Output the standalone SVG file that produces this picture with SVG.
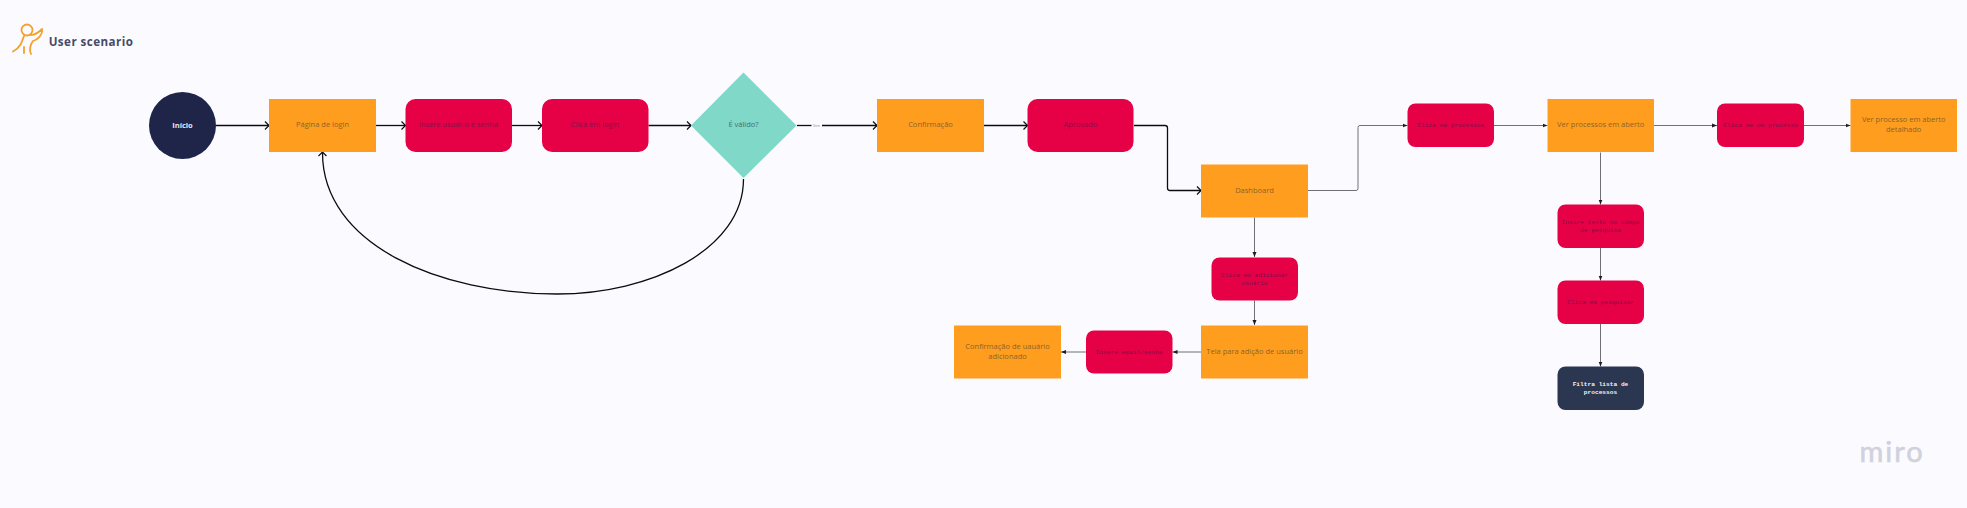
<svg xmlns="http://www.w3.org/2000/svg" width="1967" height="508" viewBox="0 0 1967 508">
<style>
.o{fill:#ff9d1f}.r{fill:#e60046}
text{text-anchor:middle;font-family:"Open Sans","Noto Sans",sans-serif;font-size:7.500px}
.to{fill:#8c6428}.tr{fill:#8a1048}.tm{font-family:"Liberation Mono",monospace;font-size:6.200px;fill:#80104a}
.k{fill:none;stroke:#0b0b12;stroke-width:1.300}
.g{fill:none;stroke:#6f6f78;stroke-width:1}
.i{fill:none;stroke:#f5a02c;stroke-width:1.800;stroke-linecap:round;stroke-linejoin:round}
</style>
<defs>
<marker id="a" markerUnits="userSpaceOnUse" markerWidth="9" markerHeight="12" refX="7.500" refY="6" orient="auto"><path d="M3.500 2L7.500 6L3.500 10" fill="none" stroke="#0b0b12" stroke-width="1.200"/></marker>
<marker id="b" markerUnits="userSpaceOnUse" markerWidth="6" markerHeight="6" refX="5" refY="3" orient="auto"><path d="M0 1L5 3L0 5Z" fill="#1c1c24"/></marker>
</defs>
<rect width="1967" height="508" fill="#fbfbff"/>
<g id="title">
<g id="title-icon" class="i"><circle cx="27" cy="30" r="5.500"/><path d="M24 36C22 42 20 48 13 51.500M31 35C35 35 38 33 42 29C43 35 37 40 33 41C30 45 29 49 31 54M24 47V53"/></g>
<text x="91" y="46" style="font-size:11.600px;font-weight:700;letter-spacing:.45px" fill="#454b66">User scenario</text>
</g>
<g id="connectors">
<path class="k" marker-end="url(#a)" d="M216 125.500H269"/>
<path class="k" marker-end="url(#a)" d="M376 125.500H405.500"/>
<path class="k" marker-end="url(#a)" d="M512 125.500H542"/>
<path class="k" marker-end="url(#a)" d="M648.500 125.500H691"/>
<path class="k" d="M797 125.500H811.500"/>
<path class="k" marker-end="url(#a)" d="M822 125.500H877"/>
<path class="k" marker-end="url(#a)" d="M984 125.500H1027.500"/>
<path class="k" marker-end="url(#a)" d="M1134 125.500H1165Q1167.500 125.500 1167.500 128V188Q1167.500 190.500 1170 190.500H1201"/>
<path class="k" marker-end="url(#a)" d="M743.500 179C743.500 250 650 294 557 294C440 294 322 245 322.500 152"/>
<path class="g" marker-end="url(#b)" d="M1308 190.500H1356Q1358 190.500 1358 188.500V127.500Q1358 125.500 1360 125.500H1407.500"/>
<path class="g" marker-end="url(#b)" d="M1494 125.500H1547.500"/>
<path class="g" marker-end="url(#b)" d="M1654 125.500H1717"/>
<path class="g" marker-end="url(#b)" d="M1804 125.500H1850.500"/>
<path class="g" marker-end="url(#b)" d="M1254.500 217.500V257"/>
<path class="g" marker-end="url(#b)" d="M1254.500 300.500V325"/>
<path class="g" marker-end="url(#b)" d="M1201 352H1172.500"/>
<path class="g" marker-end="url(#b)" d="M1086 352H1061"/>
<path class="g" marker-end="url(#b)" d="M1600.500 152.500V204.500"/>
<path class="g" marker-end="url(#b)" d="M1600.500 248V280.500"/>
<path class="g" marker-end="url(#b)" d="M1600.500 324V366.500"/>
<text x="816.500" y="127" style="font-size:4px" fill="#8a8a92">Sim</text>
</g>
<g id="n-inicio"><circle cx="182.500" cy="125.500" r="33.500" fill="#1e2549"/><text x="182.500" y="127.800" style="font-weight:700" fill="#e4e6f0">Início</text></g>
<g id="n-login"><rect class="o" x="269" y="99" width="107" height="53"/><text class="to" x="322.500" y="127.300">Página de login</text></g>
<g id="n-insere"><rect class="r" x="405.500" y="99" width="106.500" height="53" rx="10"/><text class="tr" x="458.500" y="127.300">Insere usuário e senha</text></g>
<g id="n-clica"><rect class="r" x="542" y="99" width="106.500" height="53" rx="10"/><text class="tr" x="595" y="127.300">Clica em login</text></g>
<g id="n-valido"><path d="M743.500 72.500L796.500 125.500L743.500 178L691 125.500Z" fill="#80d8c9"/><text x="743.500" y="127.300" fill="#3f6f72">É válido?</text></g>
<g id="n-confirmacao"><rect class="o" x="877" y="99" width="107" height="53"/><text class="to" x="930.500" y="127.300">Confirmação</text></g>
<g id="n-aprovado"><rect class="r" x="1027.500" y="99" width="106" height="53" rx="10"/><text class="tr" x="1080.500" y="127.300">Aprovado</text></g>
<g id="n-dashboard"><rect class="o" x="1201" y="164.500" width="107" height="53"/><text class="to" x="1254.500" y="193">Dashboard</text></g>
<g id="n-clica-processos"><rect class="r" x="1407.500" y="103.500" width="86.500" height="43.500" rx="8"/><text class="tm" x="1450.700" y="127.300">Clica em processos</text></g>
<g id="n-ver-processos"><rect class="o" x="1547.500" y="99" width="106.500" height="53"/><text class="to" x="1600.700" y="127.300">Ver processos em aberto</text></g>
<g id="n-clica-um"><rect class="r" x="1717" y="103.500" width="87" height="43.500" rx="8"/><text class="tm" x="1760.500" y="127.300">Clica em um processo</text></g>
<g id="n-ver-detalhado"><rect class="o" x="1850.500" y="99" width="106.500" height="53"/><text class="to" x="1903.700" y="122">Ver processo em aberto</text><text class="to" x="1903.700" y="132">detalhado</text></g>
<g id="n-clica-adicionar"><rect class="r" x="1211.500" y="257.500" width="86.500" height="43" rx="8"/><text class="tm" x="1254.500" y="277">Clica em adicionar</text><text class="tm" x="1254.500" y="285">usuário</text></g>
<g id="n-tela"><rect class="o" x="1201" y="325.500" width="107" height="53"/><text class="to" x="1254.500" y="354">Tela para adição de usuário</text></g>
<g id="n-insere-email"><rect class="r" x="1086" y="330.500" width="86.500" height="43" rx="8"/><text class="tm" x="1129" y="354">Insere email/senha</text></g>
<g id="n-confirmacao-usuario"><rect class="o" x="954" y="325.500" width="107" height="53"/><text class="to" x="1007.500" y="349">Confirmação de uauário</text><text class="to" x="1007.500" y="359">adicionado</text></g>
<g id="n-insere-texto"><rect class="r" x="1557.500" y="204.500" width="86.500" height="43.500" rx="8"/><text class="tm" x="1600.500" y="224">Insire texto no campo</text><text class="tm" x="1600.500" y="232">de pesquisa</text></g>
<g id="n-clica-pesquisar"><rect class="r" x="1557.500" y="280.500" width="86.500" height="43.500" rx="8"/><text class="tm" x="1600.500" y="304">Clica em pesquisar</text></g>
<g id="n-filtra"><rect x="1557.500" y="366.500" width="86.500" height="43.500" rx="8" fill="#2b3650"/><text class="tm" x="1600.500" y="386" style="fill:#f2f2f2;font-weight:700">Filtra lista de</text><text class="tm" x="1600.500" y="394" style="fill:#f2f2f2;font-weight:700">processos</text></g>
<g id="miro"><text x="1892" y="461.500" style="font-family:Lato,sans-serif;font-size:29px;font-weight:400;letter-spacing:2px" fill="#d1d1dd" stroke="#d1d1dd" stroke-width=".6">miro</text></g>
</svg>
